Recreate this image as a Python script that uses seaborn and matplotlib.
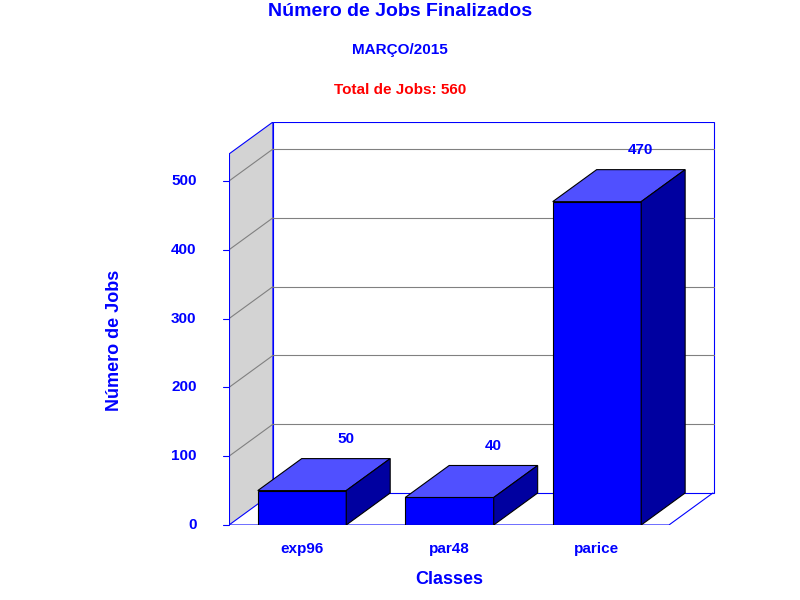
import matplotlib
matplotlib.use("Agg")
import matplotlib.pyplot as plt
from matplotlib.patches import Polygon
import seaborn as sns
import pandas as pd

categories = ["exp96", "par48", "parice"]
values = [50, 40, 470]
yticks = [0, 100, 200, 300, 400, 500]

sns.set_theme(style="white")
plt.rcParams['font.family'] = ['Liberation Sans', 'DejaVu Sans']
BLUE = "#0000ff"

fig = plt.figure(figsize=(8, 6), dpi=100)
ax = fig.add_axes([229/800, 75/600, (717-229)/800, (525-122)/600])
xl, xr = -0.495, 2.814
ytop = 403/0.688
dx, dy = 0.298, 46.5
ax.set_xlim(xl, xr)
ax.set_ylim(0, ytop)

front_r = xr - dx - 0.0
# left wall
ax.add_patch(Polygon([(xl, 0), (xl+dx, dy), (xl+dx, ytop), (xl, ytop-dy)],
                     closed=True, facecolor="#d3d3d3", edgecolor=BLUE, lw=0.8, zorder=0))
# back plane
ax.add_patch(Polygon([(xl+dx, dy), (xr-0.02, dy), (xr-0.02, ytop), (xl+dx, ytop)],
                     closed=True, facecolor="white", edgecolor=BLUE, lw=0.8, zorder=0))
for t in yticks[1:]:
    ax.plot([xl+dx, xr-0.02], [t+dy, t+dy], color="gray", lw=0.8, zorder=1)
    ax.plot([xl, xl+dx], [t, t+dy], color="gray", lw=0.8, zorder=1)
# floor
fr = xl + (669-229)/147.5
ax.plot([xl, fr, fr+dx], [0, 0, dy], color=BLUE, lw=0.8, zorder=1)

df = pd.DataFrame({"cat": categories, "val": values})
sns.barplot(data=df, x="cat", y="val", color=BLUE, width=0.6, saturation=1,
            edgecolor="black", linewidth=0.8, ax=ax, zorder=3)
ax.set_xlim(xl, xr)
ax.set_ylim(0, ytop)
w = 0.3
for i, v in enumerate(values):
    ax.add_patch(Polygon([(i-w, v), (i-w+dx, v+dy), (i+w+dx, v+dy), (i+w, v)],
                         closed=True, facecolor="#5050ff", edgecolor="black", lw=0.8, zorder=4))
    ax.add_patch(Polygon([(i+w, 0), (i+w+dx, dy), (i+w+dx, v+dy), (i+w, v)],
                         closed=True, facecolor="#0000a0", edgecolor="black", lw=0.8, zorder=4))
    ax.text(i+dx, v+dy+28, str(v), color=BLUE, fontsize=11, fontweight="bold",
            ha="center", va="center", zorder=5)
    ax.text(i, -35, categories[i], color=BLUE, fontsize=11, fontweight="bold",
            ha="center", va="center", clip_on=False)

for t in yticks:
    ax.plot([xl-0.04, xl], [t, t], color=BLUE, lw=0.8, clip_on=False)
    ax.text(xl-0.22, t, str(t), color=BLUE, fontsize=11, fontweight="bold",
            ha="right", va="center", clip_on=False)
ax.plot([xl, xl], [0, ytop-dy], color=BLUE, lw=0.8, zorder=2)

ax.set_axis_off()
fig.text(400/800, 1-12/600, "Número de Jobs Finalizados", color=BLUE, fontsize=14,
         fontweight="bold", ha="center", va="center")
fig.text(400/800, 1-50/600, "MARÇO/2015", color=BLUE, fontsize=11,
         fontweight="bold", ha="center", va="center")
fig.text(400/800, 1-90/600, "Total de Jobs: 560", color="red", fontsize=11,
         fontweight="bold", ha="center", va="center")
fig.text(115/800, 1-340/600, "Número de Jobs", color=BLUE, fontsize=13,
         fontweight="bold", ha="center", va="center", rotation=90)
fig.text(449/800, 1-580/600, "Classes", color=BLUE, fontsize=13,
         fontweight="bold", ha="center", va="center")
fig.savefig("out.png", dpi=100, facecolor="white")
